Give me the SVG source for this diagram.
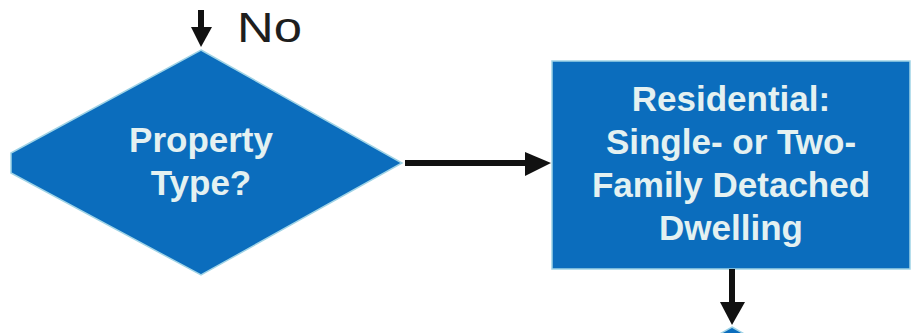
<svg xmlns="http://www.w3.org/2000/svg" width="921" height="333" viewBox="0 0 921 333">
<style>
.shape{fill:#0b6dbd;stroke:#9fd3e6;stroke-width:1.5;stroke-linejoin:miter}
.lbl{font-family:"Liberation Sans",Arial,sans-serif;font-weight:bold;font-size:35px;fill:#e4f1f1;text-anchor:middle}
.no{font-family:"Liberation Sans",Arial,sans-serif;font-size:42px;fill:#1e1e1e}
.conn{stroke:#111;stroke-width:6;fill:none}
.head{fill:#111}
</style>
<rect width="921" height="333" fill="#ffffff"/>
<g id="property-type">
<polygon class="shape" points="201,50 402,163 201,275 11,173 11,153"/>
<text class="lbl" x="201" y="152">Property</text>
<text class="lbl" x="201" y="195">Type?</text>
</g>
<g id="residential">
<rect class="shape" x="552" y="61" width="358" height="208"/>
<text class="lbl" x="731" y="111">Residential:</text>
<text class="lbl" x="731" y="154">Single- or Two-</text>
<text class="lbl" x="731" y="197">Family Detached</text>
<text class="lbl" x="731" y="240">Dwelling</text>
</g>
<g id="next-node">
<polygon class="shape" points="732,327 790,360 674,360"/>
</g>
<g id="connectors">
<line class="conn" x1="201" y1="10" x2="201" y2="30"/>
<polygon class="head" points="191,27 212,27 201,47"/>
<text class="no" x="237" y="42" textLength="65" lengthAdjust="spacingAndGlyphs">No</text>
<line class="conn" x1="405" y1="163" x2="528" y2="163"/>
<polygon class="head" points="525,152 551,163 525,176"/>
<line class="conn" x1="732" y1="269" x2="732" y2="306"/>
<polygon class="head" points="720,302 745,302 732,325"/>
</g>
</svg>
